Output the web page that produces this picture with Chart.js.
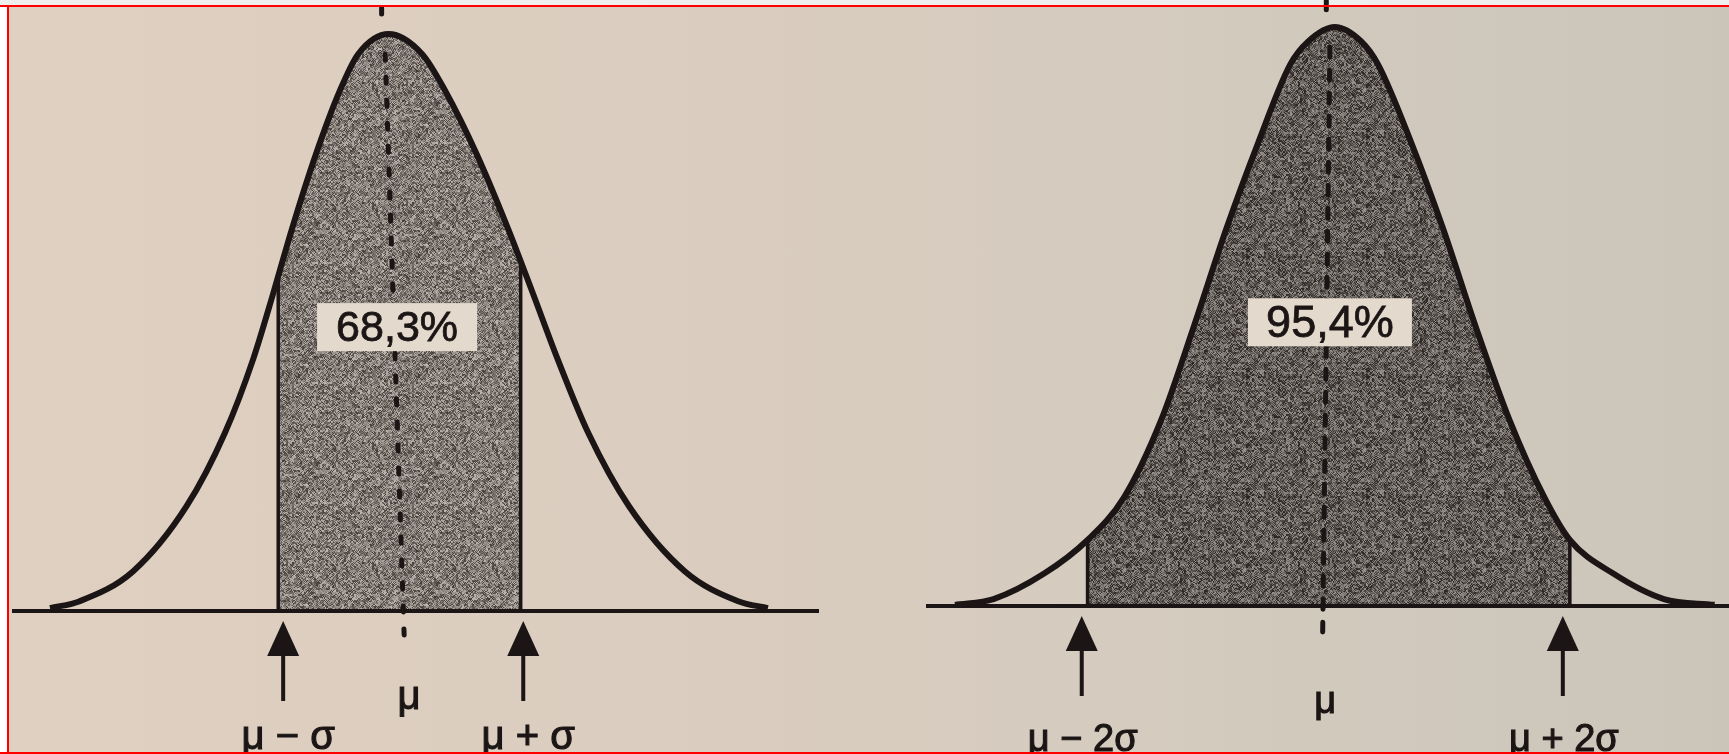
<!DOCTYPE html>
<html>
<head>
<meta charset="utf-8">
<script src="https://cdn.jsdelivr.net/npm/chart.js@4.4.0/dist/chart.umd.min.js"></script>
<style>
  html, body { margin: 0; padding: 0; background: #fff; }
  #page { position: relative; width: 1729px; height: 754px; overflow: hidden; background: #fff; }
  #strip { position: absolute; left: 0; top: 0; width: 1729px; height: 5px; background: #efefef; }
  #paper {
    position: absolute; left: 9px; top: 7px; right: 0; bottom: 2px;
    background: linear-gradient(90deg, #dfd0c1 0%, #dbcdbf 35%, #d5cbbf 65%, #cbc5b9 100%);
  }
  canvas { position: absolute; left: 0; top: 0; }
  .rule { position: absolute; background: #f00; z-index: 5; }
</style>
</head>
<body>
<div id="page">
  <div id="strip"></div>
  <div id="paper"></div>
  <canvas id="left" width="1729" height="754"></canvas>
  <canvas id="right" width="1729" height="754"></canvas>
  <div class="rule" style="left:0;top:5px;width:1729px;height:2px"></div>
  <div class="rule" style="left:7px;top:5px;width:2px;height:749px"></div>
  <div class="rule" style="left:0;top:752px;width:1729px;height:2px"></div>
</div>
<script>
// bell curves: x in standard deviations from the mean, y relative to the peak
const leftX = [-2.97, -2.72, -2.27, -1.82, -1.50, -1.26, -1.09, -0.935, -0.736, -0.529, -0.378, -0.12,
               0.162, 0.351, 0.624, 0.885, 1.09, 1.30, 1.56, 1.90, 2.37, 2.82, 3.07];
const leftY = [0.005, 0.017, 0.069, 0.182, 0.308, 0.437, 0.552, 0.662, 0.790, 0.903, 0.965, 1.0,
               0.965, 0.903, 0.790, 0.662, 0.552, 0.437, 0.308, 0.182, 0.069, 0.017, 0.005];
const rightX = [-3.10, -2.78, -2.36, -2.00, -1.70, -1.39, -1.12, -0.85, -0.585, -0.32, -0.17, 0.05,
                0.27, 0.41, 0.685, 0.95, 1.22, 1.50, 1.79, 2.00, 2.36, 2.78, 3.20];
const rightY = [0.002, 0.012, 0.056, 0.114, 0.187, 0.321, 0.482, 0.651, 0.800, 0.935, 0.975, 1.0,
                0.975, 0.935, 0.800, 0.651, 0.482, 0.321, 0.187, 0.114, 0.056, 0.012, 0.002];

// shaded band edges and the curve height where each edge meets it
const leftBand = [-1.05, 0.99];
const leftBandTop = [0.58, 0.606];
const rightBand = [-2.0, 2.0];
const rightBandTop = [0.114, 0.114];

const leftShare = '68,3%';
const rightShare = '95,4%';

const leftTicks = ['μ − σ', 'μ', 'μ + σ'];
const leftTickAt = [-1.0, 0.05, 1.02];
const rightTicks = ['μ − 2σ', 'μ', 'μ + 2σ'];
const rightTickAt = [-2.04, -0.03, 1.95];

const ink = '#1b1615';

// speckled print screen for the shaded area
function grain(base, spread, seed) {
  const n = 120;
  const c = document.createElement('canvas');
  c.width = c.height = n;
  const g = c.getContext('2d');
  const img = g.createImageData(n, n);
  for (let py = 0; py < n; py++) {
    for (let px = 0; px < n; px++) {
      const k = (py >> 1) * n + (px >> 1) + ((px + py) & 1) * 7919;
      let h = Math.imul(k + seed, 2654435761) >>> 0;
      h ^= h >>> 15;
      h = Math.imul(h, 2246822519) >>> 0;
      h ^= h >>> 13;
      const v = ((h & 255) / 255 - 0.5) * spread;
      const i = (py * n + px) * 4;
      img.data[i] = base[0] + v;
      img.data[i + 1] = base[1] + v;
      img.data[i + 2] = base[2] + v;
      img.data[i + 3] = 255;
    }
  }
  g.putImageData(img, 0, 0);
  return g.createPattern(c, 'repeat');
}

function marks(p) {
  return {
    id: 'marks',
    afterDatasetsDraw(chart) {
      const { ctx, chartArea } = chart;
      const sx = chart.scales.x, sy = chart.scales.y;
      const base = chartArea.bottom;
      ctx.save();
      ctx.fillStyle = ink;
      ctx.strokeStyle = ink;

      // arrows under the band edges
      p.tickAt.forEach((v, i) => {
        if (i === 1) return;
        const px = sx.getPixelForValue(v) - 1;
        ctx.beginPath();
        ctx.moveTo(px, base + 10);
        ctx.lineTo(px - 16, base + 45);
        ctx.lineTo(px + 16, base + 45);
        ctx.closePath();
        ctx.fill();
        ctx.fillRect(px - 2, base + 43, 4, 47);
      });

      ctx.textAlign = 'center';
      ctx.textBaseline = 'alphabetic';
      ctx.font = p.tickFont;
      ctx.lineWidth = 1.1;
      p.ticks.forEach((t, i) => {
        const tx = sx.getPixelForValue(p.tickAt[i]) + (i === 1 ? 0 : p.nudge);
        const ty = base + (i === 1 ? p.muRow : p.edgeRow);
        ctx.fillText(t, tx, ty);
        ctx.strokeText(t, tx, ty);
      });

      // share label on a light box
      const bx = sx.getPixelForValue(p.boxAt[0]);
      const by = sy.getPixelForValue(p.boxAt[1]);
      ctx.fillStyle = '#e3d9cd';
      ctx.fillRect(bx - p.boxW / 2, by - 24, p.boxW, 48);
      ctx.fillStyle = ink;
      ctx.font = p.shareFont;
      ctx.textBaseline = 'middle';
      ctx.lineWidth = 0.8;
      ctx.fillText(p.share, bx, by + 2);
      ctx.strokeText(p.share, bx, by + 2);
      ctx.restore();
    }
  };
}

function panel(id, p) {
  const pts = p.x.map((x, i) => ({ x, y: p.y[i] }));
  const [lo, hi] = p.band;
  const shade = [{ x: lo, y: p.bandTop[0] }]
    .concat(pts.filter(d => d.x > lo && d.x < hi))
    .concat([{ x: hi, y: p.bandTop[1] }]);

  new Chart(document.getElementById(id), {
    type: 'line',
    data: {
      datasets: [
        {
          data: pts,
          borderColor: ink,
          borderWidth: 6,
          cubicInterpolationMode: 'monotone',
          fill: false,
          clip: false
        },
        {
          data: [{ x: lo, y: 0 }, { x: lo, y: p.bandTop[0] }, { x: lo, y: null },
                 { x: hi, y: 0 }, { x: hi, y: p.bandTop[1] }],
          borderColor: ink,
          borderWidth: 3.5,
          fill: false,
          clip: false
        },
        {
          // mean line, with a short tick above the peak
          data: [{ x: p.lean[0] - 0.03, y: 1.045 }, { x: p.lean[0] - 0.03, y: 1.03 }, { x: 0, y: null },
                 { x: p.lean[0], y: 0.965 }, { x: p.lean[1], y: -0.045 }],
          borderColor: ink,
          borderWidth: 5,
          borderDash: p.dash,
          borderCapStyle: 'round',
          fill: false,
          clip: false
        },
        {
          data: [{ x: p.min, y: 0 }, { x: p.max, y: 0 }],
          borderColor: ink,
          borderWidth: 4,
          fill: false,
          clip: false
        },
        {
          data: shade,
          borderWidth: 0,
          borderColor: 'rgba(0,0,0,0)',
          backgroundColor: p.screen,
          cubicInterpolationMode: 'monotone',
          fill: 'origin',
          clip: false
        }
      ]
    },
    options: {
      responsive: false,
      animation: false,
      events: [],
      layout: { padding: p.pad },
      elements: { point: { radius: 0 } },
      plugins: { legend: { display: false }, tooltip: { enabled: false } },
      scales: {
        x: { type: 'linear', display: false, min: p.min, max: p.max },
        y: { display: false, min: 0, max: 1 }
      }
    },
    plugins: [marks(p)]
  });
}

panel('left', {
  x: leftX, y: leftY, band: leftBand, bandTop: leftBandTop,
  min: -3.29, max: 3.50,
  pad: { left: 12, right: 910, top: 34, bottom: 143 },
  lean: [-0.15, 0.01], dash: [6, 17],
  screen: grain([128, 120, 114], 130, 7),
  ticks: leftTicks, tickAt: leftTickAt, nudge: 4,
  tickFont: '40px "Liberation Sans", Arial, sans-serif',
  muRow: 98, edgeRow: 138,
  share: leftShare, shareFont: '43px "Liberation Sans", Arial, sans-serif',
  boxAt: [-0.05, 0.492], boxW: 160
});

panel('right', {
  x: rightX, y: rightY, band: rightBand, bandTop: rightBandTop,
  min: -3.34, max: 3.32,
  pad: { left: 926, right: 0, top: 27, bottom: 148 },
  lean: [0.01, -0.05], dash: [10, 13],
  screen: grain([98, 92, 88], 120, 911),
  ticks: rightTicks, tickAt: rightTickAt, nudge: 0,
  tickFont: '38px "Liberation Sans", Arial, sans-serif',
  muRow: 107, edgeRow: 145,
  share: rightShare, shareFont: '45px "Liberation Sans", Arial, sans-serif',
  boxAt: [0.01, 0.49], boxW: 164
});
</script>
</body>
</html>
